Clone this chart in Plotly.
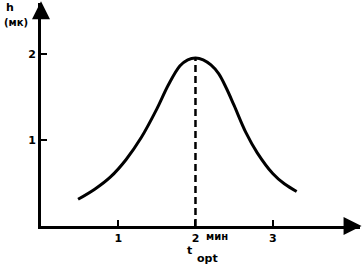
import plotly.graph_objects as go

# curve data
t_vals = [0.48, 0.70, 0.90, 1.10, 1.30, 1.50, 1.65, 1.80, 1.90, 2.00,
          2.10, 2.20, 2.30, 2.40, 2.50, 2.65, 2.80, 3.00, 3.15, 3.31]
h_vals = [0.31, 0.43, 0.57, 0.77, 1.03, 1.36, 1.64, 1.86, 1.93, 1.95,
          1.93, 1.87, 1.77, 1.60, 1.40, 1.09, 0.85, 0.61, 0.49, 0.40]

t_opt = 2.0
h_peak = 1.95

x_ticks = [1, 2, 3]
x_ticklabels = ["1", "2", "3"]
y_ticks = [1, 2]
y_ticklabels = ["1", "2"]

X_MAX = 4.13
Y_MAX = 2.59

W, H = 363, 266
ML, MR, MT, MB = 41, 3, 3, 40

font = dict(family="DejaVu Sans", size=11, color="black")

fig = go.Figure()
fig.add_trace(go.Scatter(x=t_vals, y=h_vals, mode="lines",
                         line=dict(color="black", width=3, shape="spline", smoothing=1.0),
                         showlegend=False, hoverinfo="skip"))
fig.add_trace(go.Scatter(x=[t_opt, t_opt], y=[0, h_peak], mode="lines",
                         line=dict(color="black", width=2.5, dash="7px,4px"),
                         showlegend=False, hoverinfo="skip"))

fig.update_layout(
    width=W, height=H,
    margin=dict(l=ML, r=MR, t=MT, b=MB),
    plot_bgcolor="white", paper_bgcolor="white",
    font=font,
    hovermode=False,
    xaxis=dict(range=[0, X_MAX], showgrid=False, zeroline=False, automargin=False,
               showline=True, linecolor="black", linewidth=3,
               ticks="inside", ticklen=6, tickwidth=2, tickcolor="black",
               tickvals=x_ticks, ticktext=[f"<b>{s}</b>" for s in x_ticklabels],
               tickfont=font),
    yaxis=dict(range=[0, Y_MAX], showgrid=False, zeroline=False, automargin=False,
               showline=True, linecolor="black", linewidth=3,
               ticks="inside", ticklen=6, tickwidth=2, tickcolor="black",
               tickvals=y_ticks, ticktext=[f"<b>{s}</b>" for s in y_ticklabels],
               tickfont=font),
)

# arrowheads
fig.add_annotation(x=0, y=Y_MAX + 0.02, ax=0, ay=Y_MAX - 0.2, xref="x", yref="y",
                   axref="x", ayref="y", showarrow=True, arrowhead=2,
                   arrowsize=1.2, arrowwidth=3, arrowcolor="black", text="")
fig.add_annotation(x=X_MAX + 0.02, y=0, ax=X_MAX - 0.2, ay=0, xref="x", yref="y",
                   axref="x", ayref="y", showarrow=True, arrowhead=2,
                   arrowsize=1.2, arrowwidth=3, arrowcolor="black", text="")


def px_ann(px, py, text, size=11, xanchor="center"):
    fig.add_annotation(x=(px - ML) / (W - ML - MR), y=(H - MB - py) / (H - MT - MB),
                       xref="paper", yref="paper", text=text, showarrow=False,
                       xanchor=xanchor, yanchor="middle",
                       font=dict(family="DejaVu Sans", size=size, color="black"))


px_ann(10, 7, "<b>h</b>")
px_ann(16, 22, "<b>(мк)</b>", size=10)
px_ann(204, 237, "<b>мин</b>", size=10, xanchor="left")
px_ann(189, 250, "<b>t</b>", size=11)
px_ann(207, 258, "<b>opt</b>", size=11)

fig.write_html("out.html", config={"displayModeBar": False, "staticPlot": True},
               post_script="document.body.style.margin='0';")
